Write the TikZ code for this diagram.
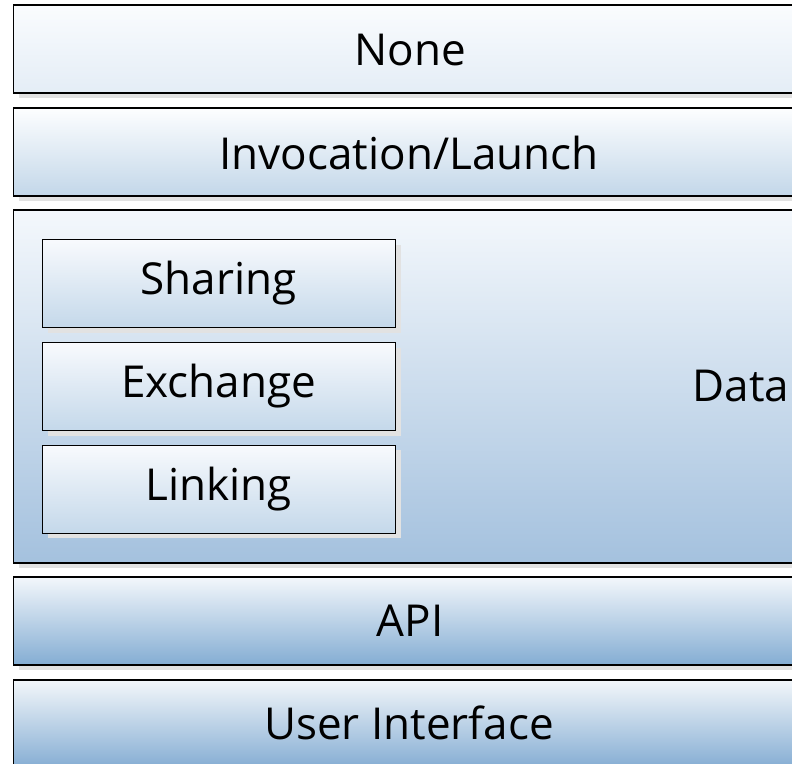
\documentclass[tikz,border=0pt]{standalone}
\usepackage{fontspec}
\setmainfont{Open Sans}
\usetikzlibrary{shadows}
\definecolor{noneTop}{HTML}{FAFCFE}
\definecolor{noneBot}{HTML}{E4EDF6}
\definecolor{invTop}{HTML}{FDFEFF}
\definecolor{invBot}{HTML}{C3D7E9}
\definecolor{dataTop}{HTML}{F4F8FC}
\definecolor{dataBot}{HTML}{A4C1DE}
\definecolor{apiTop}{HTML}{F3F7FB}
\definecolor{apiBot}{HTML}{84ADD3}
\definecolor{uiTop}{HTML}{F3F7FA}
\definecolor{uiBot}{HTML}{76A3CE}
\definecolor{subTop}{HTML}{F8FAFD}
\definecolor{subBot}{HTML}{C4D8EA}
\definecolor{shadowgray}{HTML}{E2E2E2}
\begin{document}
\begin{tikzpicture}[x=1pt,y=-1pt,
  layerbox/.style={draw=black, line width=1.6pt, rectangle, anchor=north west,
    inner sep=0pt, minimum width=800pt,
    drop shadow={shadow xshift=6pt, shadow yshift=-5pt, fill=shadowgray, opacity=1}},
  subbox/.style={draw=black, line width=1.4pt, rectangle, anchor=north west,
    inner sep=0pt, minimum width=353pt, minimum height=88pt,
    top color=subTop, bottom color=subBot,
    drop shadow={shadow xshift=5pt, shadow yshift=-5pt, fill=shadowgray, opacity=1}},
  label/.style={font=\fontsize{44}{52}\selectfont, text=black, inner sep=0pt}]
\clip (0,0) rectangle (792,763);
\fill[white] (0,0) rectangle (792,763);

% stacked layers
\node[layerbox, minimum height=88pt, top color=noneTop, bottom color=noneBot] (none) at (12.5,4) {};
\node[layerbox, minimum height=88pt, top color=invTop, bottom color=invBot] (inv) at (12.5,107) {};
\node[layerbox, minimum height=353pt, top color=dataTop, bottom color=dataBot] (data) at (12.5,209) {};
\node[layerbox, minimum height=88pt, top color=apiTop, bottom color=apiBot] (api) at (12.5,576) {};
\node[layerbox, minimum height=100pt, top color=uiTop, bottom color=uiBot] (ui) at (12.5,679) {};

% boxes inside the data layer
\node[subbox] (share) at (42,239) {};
\node[subbox] (exch) at (42,342) {};
\node[subbox] (link) at (42,444.5) {};

% texts
\node[label] (tnone) at (410,50) {None};
\node[label] (tinv) at (409,153) {Invocation/Launch};
\node[label] (tshare) at (218.5,283) {Sharing};
\node[label] (texch) at (218.5,386) {Exchange};
\node[label] (tlink) at (218.5,489) {Linking};
\node[label] (tdata) at (741,386) {Data};
\node[label] (tapi) at (410,621) {API};
\node[label] (tui) at (409,723) {User Interface};
\end{tikzpicture}
\end{document}
